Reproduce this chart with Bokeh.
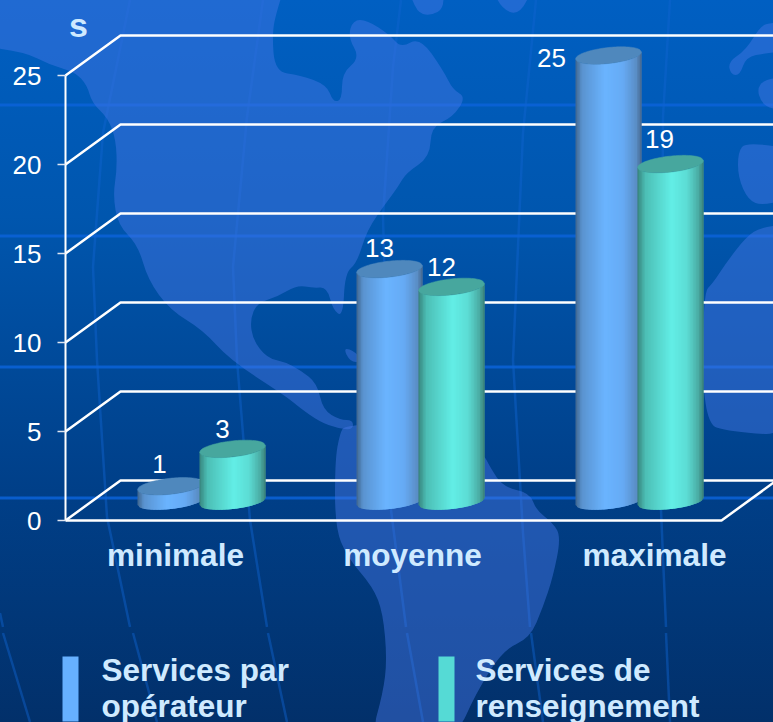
from urllib.parse import quote
from bokeh.embed import file_html
from bokeh.resources import INLINE
from bokeh.models import Range1d, FixedTicker, ColumnDataSource
from bokeh.plotting import figure
from bokeh.core.properties import value

# ---------- data ----------
categories = ["minimale", "moyenne", "maximale"]
series_names = [["Services par", "opérateur"], ["Services de", "renseignement"]]
operateur = [0.8, 13, 25]
renseignement = [2.9, 12, 18.9]
y_ticks = [0, 5, 10, 15, 20, 25]
unit_label = "s"

# ---------- layout constants (reference pixels) ----------
PX_PER_CAT, CAT0_PX = 219.0, 201.0
PX_PER_VAL, ZERO_PX = 17.8, 520.0
FIG_W, FIG_H = 773, 722
AXIS_PX = 65
DEPTH_X, DEPTH_Y = 55.0, 40.0
BAR_OFFSET, BAR_HALF = 31.0, 33.0
TOP_ZERO_PX = 500.0
FONT = "Liberation Sans"
LIGHT = "#cfeaff"
TEXT_LIFT = 9  # the text glyph sits this far below its nominal baseline

def X(px):
    return (px - CAT0_PX) / PX_PER_CAT

def Y(py):
    return (ZERO_PX - py) / PX_PER_VAL

p = figure(width=FIG_W, height=FIG_H, output_backend="svg", toolbar_location=None,
           x_range=Range1d(X(0), X(FIG_W)),
           y_range=Range1d(Y(FIG_H), Y(0)),
           min_border_left=0, min_border_right=0, min_border_top=0, min_border_bottom=0,
           background_fill_color=None, border_fill_color=None, outline_line_color=None)
p.grid.visible = False
p.xaxis.visible = False
ax = p.yaxis[0]
ax.fixed_location = X(AXIS_PX)
ax.ticker = FixedTicker(ticks=y_ticks)
ax.bounds = (min(y_ticks), max(y_ticks))
ax.axis_line_color = "white"
ax.axis_line_width = 2
ax.major_tick_line_color = "#dfe6f2"
ax.major_tick_line_width = 1.5
ax.major_tick_out = 8
ax.major_tick_in = 0
ax.minor_tick_line_color = None
ax.major_label_text_color = "white"
ax.major_label_text_font = FONT
ax.major_label_text_font_size = "26px"
ax.major_label_standoff = 16

# ---------- 3D walls ----------
dv = DEPTH_Y / PX_PER_VAL
dc = DEPTH_X / PX_PER_CAT
x0 = X(AXIS_PX)
xs = [[x0, x0 + dc, X(800)] for _ in y_ticks]
ys = [[t, t + dv, t + dv] for t in y_ticks]
p.multi_line(xs, ys, line_color="white", line_width=2.5)
x_floor_end = X(721)
p.line([x0, x_floor_end, x_floor_end + dc], [0, 0, dv], line_color="white", line_width=2.5)

# ---------- cylinders ----------
def lerp_color(stops, u):
    for (u0, c0), (u1, c1) in zip(stops, stops[1:]):
        if u <= u1:
            f = (u - u0) / (u1 - u0)
            ch = [int(c0[i:i + 2], 16) * (1 - f) + int(c1[i:i + 2], 16) * f for i in (1, 3, 5)]
            return "#%02x%02x%02x" % tuple(int(round(v)) for v in ch)
    return stops[-1][1]

BLUE = [(0, "#3f668f"), (0.10, "#5a93d0"), (0.45, "#6ab4ff"), (0.72, "#66aaf4"), (0.92, "#5a8ec6"), (1, "#46688e")]
GREEN = [(0, "#37857d"), (0.12, "#4cbeb5"), (0.52, "#62eee6"), (0.75, "#5cdcd4"), (0.92, "#4aaca4"), (1, "#3a8078")]

def cylinder(cx_px, v, stops, top_color, n=44):
    b_top, b_base, k = 8.0, 7.5, 3.5
    top_py = TOP_ZERO_PX - PX_PER_VAL * v
    base_py = TOP_ZERO_PX + 1.0
    arc = lambda s, b: b * (max(0.0, 1 - s * s) ** 0.5) - k * s
    sx, sy, colors = [], [], []
    for i in range(n):
        s0 = -1 + 2 * i / n
        # every stripe runs on beneath the next one, so no seams show between them
        s1 = min(1.0, -1 + 2 * (i + 2) / n)
        px0, px1 = cx_px + BAR_HALF * s0, cx_px + BAR_HALF * s1
        sx.append([X(px0), X(px1), X(px1), X(px0)])
        sy.append([Y(top_py + arc(s0, b_top)), Y(top_py + arc(s1, b_top)),
                   Y(base_py + arc(s1, b_base)), Y(base_py + arc(s0, b_base))])
        colors.append(lerp_color(stops, (i + 0.5) / n))
    p.patches(sx, sy, fill_color=colors, line_color=None)
    ex, ey = [], []
    for i in range(72):
        s = -1 + 2 * i / 35.5 if i < 36 else 1 - 2 * (i - 36) / 35.5
        r = max(0.0, 1 - s * s) ** 0.5
        r = r if i < 36 else -r
        ex.append(X(cx_px + BAR_HALF * s))
        ey.append(Y(top_py + b_top * r - k * s))
    p.patch(ex, ey, fill_color=top_color, line_color=top_color, line_width=0.5)

for i in range(len(categories)):
    cx = CAT0_PX + PX_PER_CAT * i
    cylinder(cx - BAR_OFFSET, operateur[i], BLUE, "#4f88bd")
    cylinder(cx + BAR_OFFSET, renseignement[i], GREEN, "#47a79e")

# ---------- value labels ----------
lab_c, lab_v, lab_t, lab_dx, lab_dy = [], [], [], [], []
off_blue = [(-11, -13), (-10, -12), (-57, 11)]
off_green = [(-10, -11), (-10, -11), (-11, -16)]
for i in range(len(categories)):
    for vals, side, off in ((operateur, -1, off_blue), (renseignement, 1, off_green)):
        lab_c.append(i + side * BAR_OFFSET / PX_PER_CAT)
        lab_v.append(vals[i] + (ZERO_PX - TOP_ZERO_PX) / PX_PER_VAL)
        lab_t.append(str(int(round(vals[i]))))
        lab_dx.append(off[i][0])
        lab_dy.append(off[i][1] - TEXT_LIFT)
p.text(x="x", y="y", text="t", x_offset="dx", y_offset="dy",
       source=ColumnDataSource(dict(x=lab_c, y=lab_v, t=lab_t, dx=lab_dx, dy=lab_dy)),
       text_color="white", text_font=value(FONT), text_font_size="26px",
       text_align="center", text_baseline="alphabetic")

# ---------- category labels, unit ----------
cat_px = [175, 412, 654]
p.text(x=[X(c) for c in cat_px], y=[Y(563 - TEXT_LIFT)] * 3, text=categories, text_color=LIGHT,
       text_font=value(FONT), text_font_size="31.6px", text_font_style="bold",
       text_align="center", text_baseline="alphabetic")
p.text(x=[X(78)], y=[Y(33 - TEXT_LIFT)], text=[unit_label], text_color=LIGHT,
       text_font=value(FONT), text_font_size="34px", text_font_style="bold",
       text_align="center", text_baseline="alphabetic")

# ---------- legend ----------
leg_colors = ["#66b0ff", "#55dad5"]
leg_left = [62, 438]
leg_text = [101, 475]
for (lines, col, l, t) in zip(series_names, leg_colors, leg_left, leg_text):
    p.quad(left=[X(l)], right=[X(l + 16)], top=[Y(656)], bottom=[Y(721)], fill_color=col, line_color=None)
    p.text(x=[X(t), X(t)], y=[Y(678 - TEXT_LIFT), Y(714 - TEXT_LIFT)], text=lines, text_color=LIGHT,
           text_font=value(FONT), text_font_size="31.5px", text_font_style="bold",
           text_align="left", text_baseline="alphabetic")

# ---------- page background: gradient, map, graticule ----------
def smooth(pts):
    d = []
    n = len(pts)
    mid = lambda a, b: ((a[0] + b[0]) / 2, (a[1] + b[1]) / 2)
    m0 = mid(pts[-1], pts[0])
    d.append(f"M{m0[0]:.1f} {m0[1]:.1f}")
    for i in range(n):
        m = mid(pts[i], pts[(i + 1) % n])
        d.append(f"Q{pts[i][0]} {pts[i][1]} {m[0]:.1f} {m[1]:.1f}")
    return "".join(d) + "Z"

north_america = [(-30, -30), (290, -30), (277, 10), (272, 33), (275, 72), (300, 75), (327, 85), (333, 102), (342, 100),
                 (342, 73), (360, 58), (348, 37), (353, 20), (367, 20), (390, 35), (401, 48), (420, 37), (443, 70),
                 (453, 90), (466, 97), (453, 117), (431, 127), (430, 157), (406, 173), (398, 187), (386, 203),
                 (367, 230), (357, 263), (345, 273), (343, 317), (333, 310), (327, 287), (313, 288), (297, 285),
                 (277, 297), (257, 303), (250, 320), (253, 340), (267, 358), (285, 362), (300, 370), (317, 383),
                 (323, 410), (340, 420), (353, 420), (353, 430), (337, 428), (320, 422), (300, 408), (287, 397),
                 (230, 360), (203, 330), (170, 310), (148, 280), (138, 245), (118, 225), (113, 195), (117, 170),
                 (116, 140), (108, 118), (92, 103), (87, 85), (75, 72), (50, 65), (25, 52), (-30, 45)]
south_america = [(345, 425), (340, 433), (335, 460), (335, 527), (347, 557), (373, 587), (383, 613), (387, 660),
                 (383, 693), (370, 740), (455, 740), (476, 693), (503, 650), (530, 638), (543, 607), (553, 577),
                 (561, 537), (553, 523), (536, 510), (530, 493), (503, 487), (490, 467), (483, 453), (430, 420)]
greenland_a = [(406, -20), (416, 12), (430, 16), (445, 8), (441, -20)]
greenland_b = [(490, -20), (500, 8), (520, 16), (536, -20)]
caribbean = [(343, 347), (356, 352), (362, 362), (350, 362)]
eurasia_a = [(800, 20), (773, 23), (761, 25), (746, 50), (728, 62), (731, 75), (740, 75), (746, 57), (766, 53), (800, 50)]
eurasia_b = [(755, 80), (763, 110), (800, 108), (800, 76)]
africa_a = [(746, 142), (738, 152), (738, 177), (748, 200), (763, 206), (800, 195), (800, 150)]
africa_b = [(703, 293), (713, 283), (726, 263), (746, 237), (761, 227), (800, 223), (800, 436), (730, 432), (703, 423)]
lands = [north_america, south_america, greenland_a, greenland_b, caribbean, eurasia_a, eurasia_b, africa_a, africa_b]

meridians = [
    [(130, 0), (103, 133), (93, 267), (97, 360), (107, 517), (130, 627)],
    [(133, 633), (157, 722)],
    [(263, 0), (247, 117), (233, 267), (237, 360), (250, 520), (267, 627)],
    [(268, 633), (287, 722)],
    [(401, 0), (393, 67), (383, 217), (391, 510), (406, 627)],
    [(407, 633), (423, 722)],
    [(536, 0), (523, 133), (513, 360), (523, 533), (530, 627)],
    [(531, 633), (543, 722)],
    [(670, 0), (663, 117), (661, 510), (666, 627)],
    [(666, 633), (670, 722)],
    [(0, 613), (3, 627)],
    [(3, 633), (30, 722)],
]
bands = [105, 236, 367, 498]

svg = ['<svg xmlns="http://www.w3.org/2000/svg" width="773" height="722" viewBox="0 0 773 722">',
       '<defs><linearGradient id="g" x1="0" y1="0" x2="0" y2="1">'
       '<stop offset="0" stop-color="#005fc2"/><stop offset="0.3" stop-color="#0056ae"/>'
       '<stop offset="0.68" stop-color="#003f88"/><stop offset="1" stop-color="#02306a"/>'
       '</linearGradient></defs>',
       '<rect width="773" height="722" fill="url(#g)"/>']
for y in bands:
    svg.append(f'<rect x="0" y="{y - 1.5}" width="773" height="3" fill="#0a63d8" opacity="0.85"/>')
for m in meridians:
    pts = " ".join(f"{a},{b}" for a, b in m)
    svg.append(f'<polyline points="{pts}" fill="none" stroke="#1064d0" stroke-width="2.5" opacity="0.45"/>')
for land in lands:
    svg.append(f'<path d="{smooth(land)}" fill="#4678e6" fill-opacity="0.45"/>')
svg.append('</svg>')
uri = "data:image/svg+xml," + quote("".join(svg))
css = f'<style>html{{background:#003f88 url("{uri}") no-repeat 0 0;background-size:773px 722px;}}body{{background:transparent;}}</style>'

html = file_html(p, INLINE).replace("</head>", css + "</head>", 1)
open("out.html", "w").write(html)
